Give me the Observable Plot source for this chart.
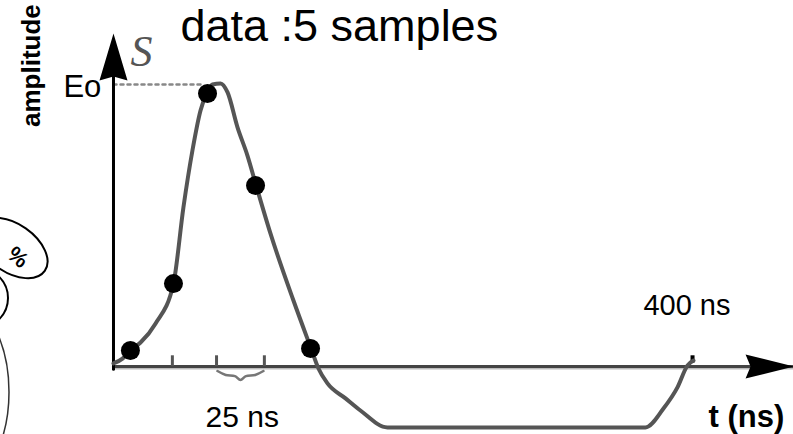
<!DOCTYPE html>
<html>
<head>
<meta charset="utf-8">
<script src="https://cdn.jsdelivr.net/npm/d3@7"></script>
<script src="https://cdn.jsdelivr.net/npm/@observablehq/plot@0.6"></script>
<style>
  html, body { margin: 0; padding: 0; background: #fff; }
  svg { display: block; }
</style>
</head>
<body>
<div id="chart"></div>
<script>
// ---- data (time in ns, amplitude relative to Eo) ----
const sampleT   = [9.2, 32.6, 51.1, 77.2, 107.1];
const sampleAmp = [0.057, 0.294, 0.968, 0.642, 0.064];

const curveT   = [0, 4.9, 9.2, 14.7, 22.8, 32.6, 38.0, 42.9, 47.3, 51.1, 53.8, 58.2, 62.0, 67.4, 72.8, 77.7, 85.3, 97.8, 107.6, 111.4, 116.3, 126.1, 134.2, 148.9, 289.1, 298.9, 306.5, 312.0, 315.2];
const curveAmp = [0.011, 0.028, 0.057, 0.085, 0.152, 0.294, 0.564, 0.766, 0.908, 0.975, 1.0, 1.004, 0.972, 0.848, 0.748, 0.638, 0.472, 0.234, 0.060, -0.007, -0.060, -0.113, -0.156, -0.216, -0.216, -0.149, -0.074, 0.004, 0.021];

const tickT = [32, 56, 82];      // 25 ns sampling ticks
const tick400T = [314.7];        // 400 ns mark
const eoLineT = [0, 48];         // dotted Eo guide
const eoLevel = 1;

const braceT   = [56.5, 61.0, 66.0, 69.0, 72.0, 77.0, 81.5];
const braceAmp = [-0.016, -0.030, -0.034, -0.048, -0.034, -0.030, -0.016];

const xAxisT = [0, 369.6];
const yAxisAmp = [-0.01, 1.12];

const labels = [
  {text: "data :5 samples", t: 36.4, a: 1.153},
  {text: "Eo", t: -27.2, a: 0.954},
  {text: "400 ns", t: 288.0, a: 0.181},
  {text: "25 ns", t: 50.0, a: -0.216}
];

// ---- build tables ----
const samples = sampleT.map((t, i) => ({t, a: sampleAmp[i]}));
const curve = curveT.map((t, i) => ({t, a: curveAmp[i]}));
const brace = braceT.map((t, i) => ({t, a: braceAmp[i]}));

const upArrow = {draw(c) { c.moveTo(0, 0); c.lineTo(14, 47); c.lineTo(0, 43); c.lineTo(-14, 47); c.closePath(); }};
const rightArrow = {draw(c) { c.moveTo(0, 0); c.lineTo(-48, -12); c.lineTo(-43, 0); c.lineTo(-48, 12); c.closePath(); }};

const font = "Liberation Sans, Arial, sans-serif";

const chart = Plot.plot({
  width: 793,
  height: 434,
  margin: 0,
  style: {background: "#fff", fontFamily: font},
  x: {domain: [-61.41, 369.57], axis: null},
  y: {domain: [-0.2411, 1.2979], axis: null},
  marks: [
    // dotted Eo line
    Plot.line(eoLineT.map(t => ({t, a: eoLevel})), {x: "t", y: "a", stroke: "#888", strokeWidth: 2.5, strokeDasharray: "3,4"}),
    // x axis line
    Plot.line(xAxisT.map(t => ({t, a: 0})), {x: "t", y: "a", stroke: "#bbb", strokeWidth: 2, dy: 2}),
    Plot.line(xAxisT.map(t => ({t, a: 0})), {x: "t", y: "a", stroke: "#444", strokeWidth: 3}),
    // y axis line
    Plot.line(yAxisAmp.map(a => ({t: 0, a})), {x: "t", y: "a", stroke: "#000", strokeWidth: 3}),
    // ticks
    Plot.ruleX(tickT, {x: d => d, y1: 0, y2: 0.038, stroke: "#555", strokeWidth: 3}),
    Plot.ruleX(tick400T, {x: d => d, y1: 0.012, y2: 0.038, stroke: "#000", strokeWidth: 4}),
    // brace
    Plot.line(brace, {x: "t", y: "a", stroke: "#777", strokeWidth: 2.5, curve: "catmull-rom"}),
    // signal curve
    Plot.line(curve, {x: "t", y: "a", stroke: "#555", strokeWidth: 4, curve: "monotone-x"}),
    // samples
    Plot.dot(samples, {x: "t", y: "a", r: 9.5, fill: "#000"}),
    // arrowheads
    Plot.dot([{t: 0, a: 1.181}], {x: "t", y: "a", symbol: upArrow, fill: "#000", r: 5}),
    Plot.dot([{t: 369.6, a: 0}], {x: "t", y: "a", symbol: rightArrow, fill: "#000", r: 5}),
    // texts
    Plot.text([labels[0]], {x: "t", y: "a", text: "text", textAnchor: "start", lineAnchor: "bottom", fontSize: 45, fill: "#000"}),
    Plot.text([labels[1]], {x: "t", y: "a", text: "text", textAnchor: "start", lineAnchor: "bottom", fontSize: 31, fill: "#000"}),
    Plot.text([labels[2]], {x: "t", y: "a", text: "text", textAnchor: "start", lineAnchor: "bottom", fontSize: 29, fill: "#000"}),
    Plot.text([labels[3]], {x: "t", y: "a", text: "text", textAnchor: "start", lineAnchor: "bottom", fontSize: 30, fill: "#000"}),
    Plot.text(["t (ns)"], {x: 323.4, y: -0.216, text: d => d, textAnchor: "start", lineAnchor: "bottom", fontSize: 31, fontWeight: "bold", fill: "#000"}),
    Plot.text(["S"], {x: 9.2, y: 1.067, text: d => d, textAnchor: "start", lineAnchor: "bottom", fontSize: 44, fontStyle: "italic", fontFamily: "Liberation Serif, serif", fill: "#555"}),
    Plot.text(["amplitude"], {x: -39.7, y: 1.067, text: d => d, rotate: -90, textAnchor: "middle", lineAnchor: "bottom", fontSize: 26, fontWeight: "bold", fill: "#000"})
  ]
});

// decorative fragments of a neighbouring figure at the left edge
const svg = d3.select(chart);
const deco = svg.append("g").attr("fill", "none");
deco.append("ellipse").attr("cx", 12).attr("cy", 248).attr("rx", 40).attr("ry", 24)
  .attr("transform", "rotate(35 12 248)").attr("stroke", "#000").attr("stroke-width", 2);
deco.append("ellipse").attr("cx", -22).attr("cy", 298).attr("rx", 30).attr("ry", 30)
  .attr("stroke", "#000").attr("stroke-width", 2);
deco.append("ellipse").attr("cx", -60).attr("cy", 392).attr("rx", 69).attr("ry", 105)
  .attr("stroke", "#333").attr("stroke-width", 1.5);
deco.append("text").text("%")
  .attr("transform", "translate(18,257) rotate(40)")
  .attr("text-anchor", "middle").attr("dominant-baseline", "central")
  .attr("font-family", font).attr("font-weight", "bold").attr("font-size", 22).attr("fill", "#000");

document.getElementById("chart").appendChild(chart);
</script>
</body>
</html>
